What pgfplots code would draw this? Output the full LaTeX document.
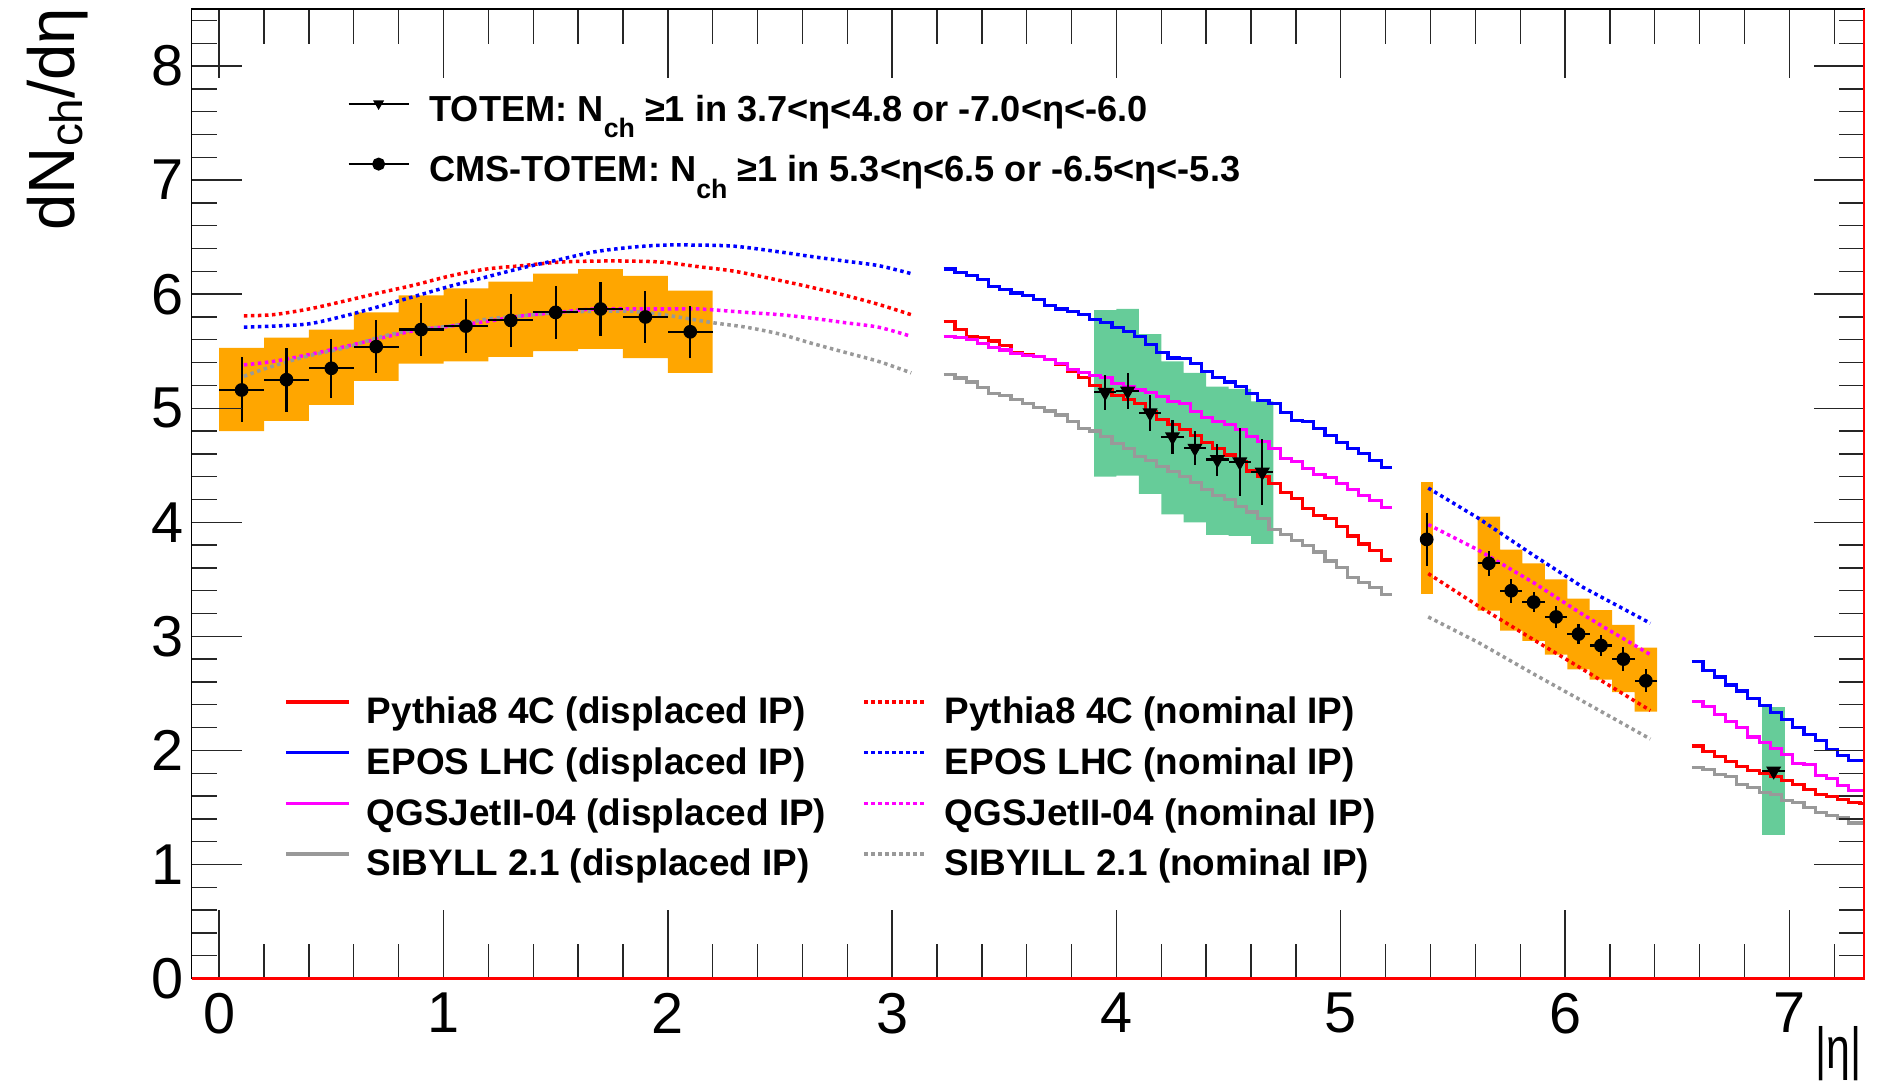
\documentclass[border=0pt]{standalone}
\usepackage{fontspec}
\setmainfont{Liberation Sans}
\usepackage{pgfplots}
\pgfplotsset{compat=1.18}

\definecolor{rorange}{RGB}{255,166,0}
\definecolor{rgreen}{RGB}{102,204,153}
\definecolor{rgray}{RGB}{153,153,153}
\definecolor{rmag}{RGB}{255,0,255}
\tikzset{dotl/.style={line width=1.0pt, dash pattern=on 1.0pt off 1.0pt},
         soll/.style={line width=0.9pt}}
\newcommand\sub[1]{\raisebox{-0.46em}{\fontsize{7.6}{8}\selectfont #1}}

\begin{document}
\begin{tikzpicture}
%================ main axis: data, x ticks, lower legend
\begin{axis}[
 at={(0,0)}, anchor=south west, scale only axis,
 width=16.727cm, height=9.695cm,
 xmin=-0.123, xmax=7.334, ymin=0, ymax=8.5,
 xtick={0,1,...,7}, minor xtick={0.2,0.4,...,7.25}, ytick=\empty,
 tick align=inside, major tick length=0.69cm, minor tick length=0.345cm,
 xticklabel style={font=\fontsize{16.4}{16.4}\selectfont, inner sep=0pt, yshift=-0.14cm},
 /pgf/number format/assume math mode=true,
 axis line style={black, line width=0.45pt},
 tick style={black!85, line width=0.4pt},
 legend columns=2,
 legend cell align=left,
 legend style={draw=none, fill=none, at={(axis cs:0.289,2.47)}, anchor=north west,
   inner sep=0pt, font=\bfseries\fontsize{10.5}{12}\selectfont,
   nodes={inner sep=0pt, text height=0.75em, text depth=0.25em},
   row sep=0.155cm,
   /tikz/every odd column/.append style={column sep=0.16cm},
   /tikz/every even column/.append style={column sep=0.36cm}},
 legend image code/.code={\draw[#1] (0cm,0.13cm) -- (0.63cm,0.13cm);},
]
% ---- systematic bands
\addplot[fill=rorange, draw=none, forget plot] coordinates {
 (0,5.53) (0.2,5.53) (0.2,5.62) (0.4,5.62) (0.4,5.69) (0.6,5.69) (0.6,5.84) (0.8,5.84)
 (0.8,5.99) (1.0,5.99) (1.0,6.05) (1.2,6.05) (1.2,6.11) (1.4,6.11) (1.4,6.18) (1.6,6.18)
 (1.6,6.22) (1.8,6.22) (1.8,6.16) (2.0,6.16) (2.0,6.03) (2.2,6.03)
 (2.2,5.31) (2.0,5.31) (2.0,5.44) (1.8,5.44) (1.8,5.52) (1.6,5.52) (1.6,5.50) (1.4,5.50)
 (1.4,5.45) (1.2,5.45) (1.2,5.41) (1.0,5.41) (1.0,5.39) (0.8,5.39) (0.8,5.24) (0.6,5.24)
 (0.6,5.03) (0.4,5.03) (0.4,4.89) (0.2,4.89) (0.2,4.80) (0,4.80)};
\addplot[fill=rgreen, draw=none, forget plot] coordinates {
 (3.9,5.86) (4.0,5.86) (4.0,5.87) (4.1,5.87) (4.1,5.65) (4.2,5.65) (4.2,5.41) (4.3,5.41)
 (4.3,5.31) (4.4,5.31) (4.4,5.19) (4.5,5.19) (4.5,5.17) (4.6,5.17) (4.6,5.06) (4.7,5.06)
 (4.7,3.81) (4.6,3.81) (4.6,3.88) (4.5,3.88) (4.5,3.89) (4.4,3.89) (4.4,4.00) (4.3,4.00)
 (4.3,4.07) (4.2,4.07) (4.2,4.25) (4.1,4.25) (4.1,4.41) (4.0,4.41) (4.0,4.40) (3.9,4.40)};
\addplot[fill=rorange, draw=none, forget plot] coordinates {
 (5.357,3.37) (5.357,4.35) (5.409,4.35) (5.409,3.37)};
\addplot[fill=rorange, draw=none, forget plot] coordinates {
 (5.61,4.05) (5.71,4.05) (5.71,3.76) (5.81,3.76) (5.81,3.64) (5.91,3.64) (5.91,3.50) (6.01,3.50)
 (6.01,3.33) (6.11,3.33) (6.11,3.23) (6.21,3.23) (6.21,3.10) (6.31,3.10) (6.31,2.90) (6.41,2.90)
 (6.41,2.34) (6.31,2.34) (6.31,2.51) (6.21,2.51) (6.21,2.62) (6.11,2.62) (6.11,2.71) (6.01,2.71)
 (6.01,2.84) (5.91,2.84) (5.91,2.96) (5.81,2.96) (5.81,3.05) (5.71,3.05) (5.71,3.225) (5.61,3.225)};
\addplot[fill=rgreen, draw=none, forget plot] coordinates {
 (6.88,1.26) (6.88,2.38) (6.98,2.38) (6.98,1.26)};

% ---- nominal IP (dotted), left
\addplot[red, dotl, smooth, forget plot] coordinates {
 (0.11,5.81) (0.24,5.82) (0.40,5.87) (0.56,5.94) (0.71,6.01) (0.87,6.08) (1.03,6.16) (1.19,6.22)
 (1.35,6.25) (1.51,6.28) (1.67,6.29) (1.83,6.29) (1.98,6.28) (2.14,6.24) (2.30,6.20) (2.50,6.12)
 (2.64,6.06) (2.79,5.99) (2.94,5.91) (3.085,5.82)};
\addplot[blue, dotl, smooth, forget plot] coordinates {
 (0.11,5.71) (0.24,5.72) (0.40,5.74) (0.56,5.81) (0.71,5.89) (0.87,5.98) (1.03,6.07) (1.19,6.15)
 (1.35,6.23) (1.51,6.30) (1.67,6.37) (1.83,6.41) (1.98,6.43) (2.14,6.43) (2.30,6.42) (2.50,6.37)
 (2.64,6.33) (2.79,6.29) (2.94,6.25) (3.085,6.18)};
\addplot[rmag, dotl, smooth, forget plot] coordinates {
 (0.11,5.38) (0.24,5.41) (0.40,5.47) (0.56,5.54) (0.71,5.61) (0.87,5.68) (1.03,5.72) (1.19,5.76)
 (1.35,5.81) (1.51,5.84) (1.67,5.87) (1.83,5.87) (1.98,5.87) (2.14,5.87) (2.35,5.84) (2.50,5.82)
 (2.64,5.79) (2.79,5.75) (2.94,5.71) (3.085,5.63)};
\addplot[rgray, dotl, smooth, forget plot] coordinates {
 (0.11,5.28) (0.24,5.37) (0.40,5.46) (0.56,5.53) (0.71,5.62) (0.87,5.69) (1.03,5.72) (1.19,5.78)
 (1.35,5.81) (1.51,5.84) (1.67,5.85) (1.83,5.85) (1.98,5.82) (2.20,5.75) (2.35,5.71) (2.50,5.65)
 (2.64,5.57) (2.79,5.49) (2.94,5.41) (3.085,5.31)};
% ---- nominal IP (dotted), right
\addplot[blue, dotl, forget plot] coordinates {(5.39,4.30) (5.61,4.04) (5.86,3.71) (6.08,3.43) (6.38,3.115)};
\addplot[rmag, dotl, forget plot] coordinates {(5.39,3.98) (5.61,3.76) (5.86,3.47) (6.08,3.19) (6.38,2.84)};
\addplot[red, dotl, forget plot] coordinates {(5.39,3.55) (5.61,3.27) (5.86,2.97) (6.08,2.71) (6.38,2.35)};
\addplot[rgray, dotl, forget plot] coordinates {(5.39,3.17) (5.61,2.95) (5.86,2.67) (6.08,2.43) (6.38,2.10)};

% ---- displaced IP (solid histograms), middle
\addplot[blue, soll, const plot, forget plot] coordinates {
 (3.23,6.22) (3.28,6.19) (3.33,6.16) (3.38,6.13) (3.43,6.07) (3.48,6.04) (3.53,6.01) (3.58,5.99)
 (3.63,5.95) (3.68,5.90) (3.73,5.87) (3.78,5.85) (3.83,5.82) (3.88,5.78) (3.93,5.75) (3.98,5.71)
 (4.03,5.67) (4.08,5.63) (4.13,5.56) (4.18,5.49) (4.23,5.44) (4.28,5.435) (4.33,5.39) (4.38,5.32)
 (4.43,5.27) (4.48,5.23) (4.53,5.19) (4.58,5.13) (4.63,5.07) (4.68,5.04) (4.73,4.96) (4.78,4.89)
 (4.83,4.885) (4.88,4.82) (4.93,4.76) (4.98,4.70) (5.03,4.645) (5.08,4.60) (5.13,4.54) (5.18,4.48)
 (5.23,4.48)};
\addplot[red, soll, const plot, forget plot] coordinates {
 (3.23,5.76) (3.28,5.69) (3.33,5.63) (3.38,5.62) (3.43,5.59) (3.48,5.55) (3.53,5.49) (3.58,5.47)
 (3.63,5.45) (3.68,5.43) (3.73,5.38) (3.78,5.32) (3.83,5.27) (3.88,5.20) (3.93,5.16) (3.98,5.11)
 (4.03,5.08) (4.08,5.04) (4.13,4.97) (4.18,4.90) (4.23,4.86) (4.28,4.81) (4.33,4.76) (4.38,4.70)
 (4.43,4.645) (4.48,4.59) (4.53,4.53) (4.58,4.45) (4.63,4.40) (4.68,4.34) (4.73,4.26) (4.78,4.21)
 (4.83,4.12) (4.88,4.06) (4.93,4.03) (4.98,3.96) (5.03,3.88) (5.08,3.81) (5.13,3.75) (5.18,3.67)
 (5.23,3.67)};
\addplot[rmag, soll, const plot, forget plot] coordinates {
 (3.23,5.63) (3.28,5.62) (3.33,5.60) (3.38,5.57) (3.43,5.53) (3.48,5.51) (3.53,5.48) (3.58,5.46)
 (3.63,5.45) (3.68,5.43) (3.73,5.39) (3.78,5.34) (3.83,5.31) (3.88,5.29) (3.93,5.27) (3.98,5.22)
 (4.03,5.19) (4.08,5.16) (4.13,5.14) (4.18,5.10) (4.23,5.06) (4.28,5.04) (4.33,4.97) (4.38,4.92)
 (4.43,4.88) (4.48,4.86) (4.53,4.81) (4.58,4.75) (4.63,4.71) (4.68,4.645) (4.73,4.56) (4.78,4.53)
 (4.83,4.47) (4.88,4.42) (4.93,4.39) (4.98,4.34) (5.03,4.29) (5.08,4.235) (5.13,4.19) (5.18,4.13)
 (5.23,4.13)};
\addplot[rgray, soll, const plot, forget plot] coordinates {
 (3.23,5.295) (3.28,5.265) (3.33,5.23) (3.38,5.18) (3.43,5.13) (3.48,5.11) (3.53,5.08) (3.58,5.04)
 (3.63,5.01) (3.68,4.976) (3.73,4.94) (3.78,4.88) (3.83,4.82) (3.88,4.80) (3.93,4.75) (3.98,4.69)
 (4.03,4.65) (4.08,4.58) (4.13,4.54) (4.18,4.49) (4.23,4.445) (4.28,4.40) (4.33,4.35) (4.38,4.29)
 (4.43,4.235) (4.48,4.20) (4.53,4.14) (4.58,4.09) (4.63,4.035) (4.68,3.94) (4.73,3.89) (4.78,3.84)
 (4.83,3.795) (4.88,3.74) (4.93,3.66) (4.98,3.60) (5.03,3.517) (5.08,3.47) (5.13,3.43) (5.18,3.37)
 (5.23,3.37)};
% ---- displaced IP, right
\addplot[blue, soll, const plot, forget plot] coordinates {
 (6.565,2.776) (6.615,2.703) (6.665,2.644) (6.715,2.574) (6.765,2.521) (6.815,2.454) (6.865,2.395)
 (6.915,2.331) (6.965,2.272) (7.015,2.199) (7.065,2.140) (7.115,2.088) (7.165,2.008) (7.215,1.956)
 (7.265,1.915) (7.315,1.915) (7.365,1.915)};
\addplot[red, soll, const plot, forget plot] coordinates {
 (6.565,2.038) (6.615,1.994) (6.665,1.944) (6.715,1.906) (6.765,1.862) (6.815,1.824) (6.865,1.795)
 (6.915,1.774) (6.965,1.739) (7.015,1.701) (7.065,1.657) (7.115,1.613) (7.165,1.598) (7.215,1.569)
 (7.265,1.540) (7.315,1.534) (7.365,1.534)};
\addplot[rmag, soll, const plot, forget plot] coordinates {
 (6.565,2.427) (6.615,2.383) (6.665,2.316) (6.715,2.257) (6.765,2.199) (6.815,2.117) (6.865,2.067)
 (6.915,2.014) (6.965,1.964) (7.015,1.882) (7.065,1.877) (7.115,1.780) (7.165,1.751) (7.215,1.695)
 (7.265,1.648) (7.315,1.648) (7.365,1.648)};
\addplot[rgray, soll, const plot, forget plot] coordinates {
 (6.565,1.853) (6.615,1.833) (6.665,1.789) (6.715,1.768) (6.765,1.701) (6.815,1.677) (6.865,1.634)
 (6.915,1.613) (6.965,1.563) (7.015,1.540) (7.065,1.496) (7.115,1.452) (7.165,1.431) (7.215,1.408)
 (7.265,1.364) (7.315,1.364) (7.365,1.364)};

% ---- data points
\addplot[only marks, mark=*, mark size=1.75pt, black, forget plot,
  error bars/.cd, x dir=both, x explicit, y dir=both, y explicit,
  error mark=none, error bar style={line width=0.6pt, black}]
 table[x=x, y=y, x error=ex, y error=ey] {
 x     y     ex    ey
 0.1   5.16  0.1   0.285
 0.3   5.25  0.1   0.28
 0.5   5.35  0.1   0.26
 0.7   5.54  0.1   0.235
 0.9   5.69  0.1   0.235
 1.1   5.72  0.1   0.235
 1.3   5.77  0.1   0.23
 1.5   5.84  0.1   0.23
 1.7   5.87  0.1   0.235
 1.9   5.80  0.1   0.23
 2.1   5.67  0.1   0.23
 5.383 3.85  0.02  0.23
 5.66  3.64  0.05  0.11
 5.76  3.40  0.05  0.105
 5.86  3.30  0.05  0.09
 5.96  3.17  0.05  0.10
 6.06  3.02  0.05  0.09
 6.16  2.92  0.05  0.095
 6.26  2.80  0.05  0.105
 6.36  2.61  0.05  0.10
};
\addplot[only marks, mark=triangle*, mark size=2.1pt, mark options={rotate=180}, black, forget plot,
  error bars/.cd, x dir=both, x explicit, y dir=both, y explicit,
  error mark=none, error bar style={line width=0.6pt, black}]
 table[x=x, y=y, x error=ex, y error=ey] {
 x     y     ex    ey
 3.95  5.14  0.05  0.155
 4.05  5.15  0.05  0.16
 4.15  4.96  0.05  0.16
 4.25  4.75  0.05  0.15
 4.35  4.65  0.05  0.15
 4.45  4.55  0.05  0.14
 4.55  4.53  0.05  0.30
 4.65  4.44  0.05  0.29
 6.93  1.82  0.05  0.03
};

% ---- lower legend
\addlegendimage{red, soll}
\addlegendentry{Pythia8 4C (displaced IP)}
\addlegendimage{red, dotl}
\addlegendentry{Pythia8 4C (nominal IP)}
\addlegendimage{blue, soll}
\addlegendentry{EPOS LHC (displaced IP)}
\addlegendimage{blue, dotl}
\addlegendentry{EPOS LHC (nominal IP)}
\addlegendimage{rmag, soll}
\addlegendentry{QGSJetII-04 (displaced IP)}
\addlegendimage{rmag, dotl}
\addlegendentry{QGSJetII-04 (nominal IP)}
\addlegendimage{rgray, soll}
\addlegendentry{SIBYLL 2.1 (displaced IP)}
\addlegendimage{rgray, dotl}
\addlegendentry{SIBYILL 2.1 (nominal IP)}
\end{axis}

%================ overlay axis: y ticks, upper legend, titles
\begin{axis}[
 at={(0,0)}, anchor=south west, scale only axis,
 width=16.727cm, height=9.695cm,
 xmin=-0.123, xmax=7.334, ymin=0, ymax=8.5,
 xtick=\empty, ytick={0,1,...,8}, minor ytick={0.2,0.4,...,8.45},
 tick align=inside, major tick length=0.5cm, minor tick length=0.25cm,
 yticklabel style={font=\fontsize{16.4}{16.4}\selectfont, inner sep=0pt, xshift=-0.075cm},
 /pgf/number format/assume math mode=true,
 axis line style={black, line width=0.45pt},
 tick style={black!85, line width=0.4pt},
 clip=false,
 legend cell align=left,
 legend style={draw=none, fill=none, at={(axis cs:0.57,7.755)}, anchor=north west,
   inner sep=0pt, font=\bfseries\fontsize{10.3}{12}\selectfont,
   nodes={inner sep=0pt, text height=0.75em, text depth=0.5em},
   row sep=0.165cm,
   /tikz/every odd column/.append style={column sep=0.2cm}},
 legend image code/.code={\draw[mark repeat=2, mark phase=2, #1] plot coordinates {(0cm,0.13cm) (0.3cm,0.13cm) (0.6cm,0.13cm)};},
]
\addlegendimage{black, line width=0.5pt, mark=triangle*, mark size=1.3pt, mark options={rotate=180}}
\addlegendentry{TOTEM: N\sub{ch} ≥1 in 3.7<η<4.8 or -7.0<η<-6.0}
\addlegendimage{black, line width=0.5pt, mark=*, mark size=1.6pt}
\addlegendentry{CMS-TOTEM: N\sub{ch} ≥1 in 5.3<η<6.5 or -6.5<η<-5.3}

\draw[red, line width=0.6pt] (rel axis cs:0,0) -- (rel axis cs:1,0) -- (rel axis cs:1,1);

\node[rotate=90, anchor=base east, inner sep=0pt, font=\fontsize{18.6}{18.6}\selectfont]
  at ([shift={(-1.17cm,0.02cm)}]rel axis cs:0,1) {dN\raisebox{-0.12em}{\fontsize{13}{13}\selectfont ch}/dη};
\node[anchor=north east, inner sep=0pt, font=\fontsize{16.5}{16.5}\selectfont]
  at ([shift={(-0.02cm,-0.47cm)}]rel axis cs:1,0) {\scalebox{0.74}[1]{|η|}};
\end{axis}

\pgfresetboundingbox
\useasboundingbox (-1.916cm,-1.025cm) rectangle (16.864cm,9.785cm);
\end{tikzpicture}
\end{document}
